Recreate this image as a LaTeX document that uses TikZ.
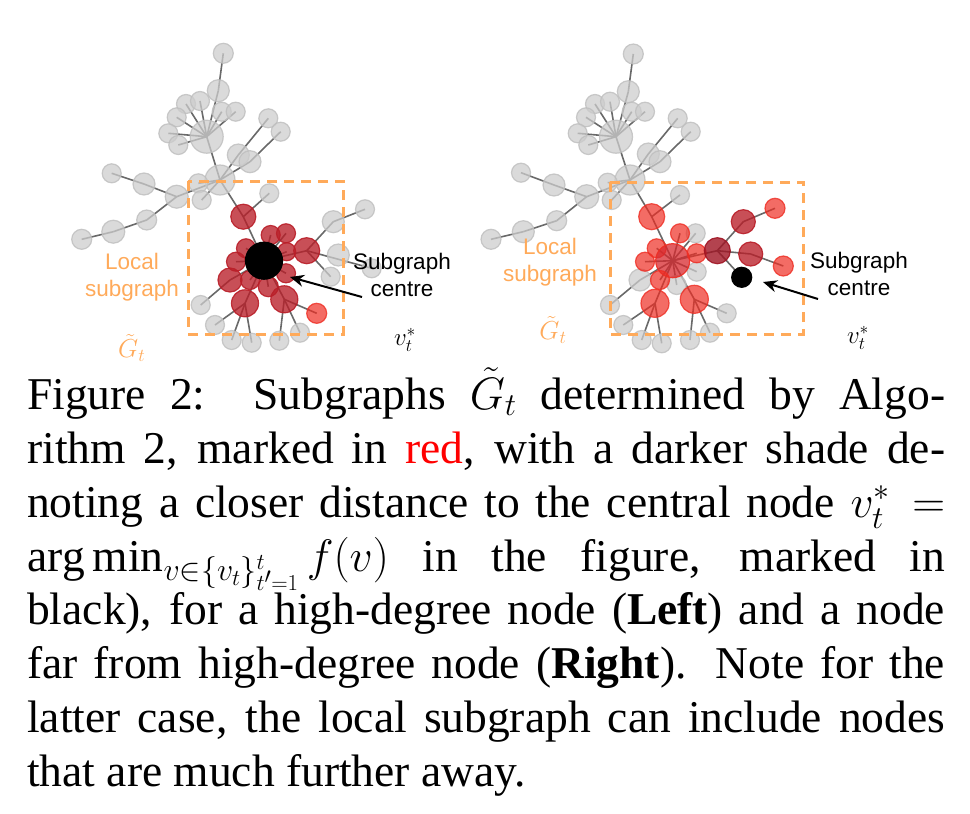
\RequirePackage{fix-cm}
\documentclass[tikz,border=0pt]{standalone}
\usepackage{fontspec}
\setmainfont{Liberation Serif}
\newfontfamily\labfont{Liberation Sans}
\usetikzlibrary{arrows.meta}
\definecolor{lorange}{RGB}{255,170,90}
\definecolor{gfill}{RGB}{205,205,205}
\definecolor{gdraw}{RGB}{190,190,190}
\definecolor{edgec}{RGB}{105,105,105}
\definecolor{dredc}{RGB}{185,30,40}
\definecolor{lredc}{RGB}{238,45,35}
\definecolor{mredc}{RGB}{215,40,45}
\definecolor{ddredc}{RGB}{160,20,35}
\pgfdeclarelayer{edges}
\pgfsetlayers{edges,main}
\begin{document}
\begin{tikzpicture}[x=1pt,y=-1pt,
  nodebase/.style={circle,inner sep=0pt,minimum size=#1,line width=1.2pt},
  gn/.style={nodebase=#1,fill=gfill,draw=gdraw,fill opacity=0.75,draw opacity=0.8},
  gn/.default=19pt,
  dr/.style={nodebase=#1,fill=dredc,draw=dredc,fill opacity=0.78,draw opacity=0.9},
  dr/.default=19pt,
  ddr/.style={nodebase=#1,fill=ddredc,draw=ddredc,fill opacity=0.8,draw opacity=0.9},
  ddr/.default=19pt,
  mr/.style={nodebase=#1,fill=mredc,draw=lredc,fill opacity=0.75,draw opacity=0.9},
  mr/.default=19pt,
  lr/.style={nodebase=#1,fill=lredc,draw=lredc,fill opacity=0.7,draw opacity=0.8},
  lr/.default=19pt,
  bn/.style={nodebase=#1,fill=black,draw=black},
  ed/.style={draw=edgec,line width=1.6pt},
  dbox/.style={draw=lorange,line width=3pt,dash pattern=on 10pt off 7pt},
  arr/.style={-{Stealth[length=14pt,width=12pt]},line width=2pt,draw=black},
  lab/.style={font=\labfont\fontsize{22.5}{26.5}\selectfont,inner sep=0pt,align=center},
  capl/.style={anchor=base west,inner sep=0pt,font=\fontsize{45.5}{54}\selectfont}
]
\useasboundingbox (0,0) rectangle (970,814);

% ---------------- left graph: gray nodes
\node[gn=20pt] (la1) at (223.3,53.3) {};
\node[gn=22pt] (la2) at (218.3,90.7) {};
\node[gn] (la3) at (186,104) {};
\node[gn] (la4) at (200,101) {};
\node[gn] (la5) at (176.7,117.3) {};
\node[gn] (la6) at (221.7,111.7) {};
\node[gn] (la7) at (235.7,111.7) {};
\node[gn=33pt] (la8) at (206.7,136.7) {};
\node[gn] (la9) at (168.3,133.3) {};
\node[gn] (la10) at (178.3,145) {};
\node[gn] (la11) at (268.3,118.3) {};
\node[gn] (la12) at (280.7,131.7) {};
\node[gn=22pt] (la13) at (238.3,155) {};
\node[gn=22pt] (la14) at (250,161.7) {};
\node[gn=30pt] (la15) at (220,180) {};
\node[gn] (la16) at (198.3,183.3) {};
\node[gn] (la17) at (201.7,200) {};
\node[gn] (la18) at (111.7,173.3) {};
\node[gn=22pt] (la19) at (144,184) {};
\node[gn=23pt] (la20) at (176.7,196.7) {};
\node[gn=20pt] (la21) at (146.7,220) {};
\node[gn=23pt] (la22) at (113.3,231.7) {};
\node[gn=20pt] (la23) at (81.7,239.3) {};
\node[gn] (la24) at (269.3,193.3) {};
\node[gn] (la25) at (365,209.3) {};
\node[gn=22pt] (la26) at (333.3,221.7) {};
\node[gn=22pt] (la27) at (338.3,255) {};
\node[gn] (la28) at (371.7,268.3) {};
\node[gn] (la29) at (330.7,276.7) {};
\node[gn] (la30) at (200.7,305) {};
\node[gn] (la31) at (215,325) {};
\node[gn] (la32) at (231.7,340) {};
\node[gn] (la33) at (251.7,342.7) {};
\node[gn] (la34) at (279.3,340.7) {};
\node[gn] (la35) at (300,332.7) {};
% left graph: red nodes
\node[dr=25pt] (lr1) at (243.3,216.7) {};
\node[dr] (lr2) at (270.7,235) {};
\node[dr] (lr3) at (286,233.3) {};
\node[dr=26pt] (lr4) at (306.7,250.7) {};
\node[dr=18pt] (lr5) at (286.7,251.7) {};
\node[dr] (lr6) at (246,248.3) {};
\node[dr] (lr7) at (236,261.7) {};
\node[dr=24pt] (lr8) at (230,280) {};
\node[dr] (lr9) at (250,280) {};
\node[dr=20pt] (lr10) at (268.3,286.7) {};
\node[dr] (lr11) at (286,273.3) {};
\node[dr=27pt] (lr12) at (245,303.3) {};
\node[dr=27pt] (lr13) at (284.3,299.3) {};
\node[lr=20pt] (lr14) at (316.7,313.3) {};
\node[bn=37pt] (lc) at (264,260.7) {};

\begin{pgfonlayer}{edges}
\foreach \a/\b in {la1/la2,la2/la8,la8/la3,la8/la4,la8/la5,la8/la6,la8/la7,la8/la9,la8/la10,
  la8/la15,la15/la13,la13/la11,la15/la14,la14/la12,la15/la16,la15/la17,
  la18/la19,la19/la20,la23/la22,la22/la21,la21/la20,la20/la15,la15/lr1,lr1/la24,lr1/lc,
  lc/lr2,lc/lr3,lc/lr4,lc/lr5,lc/lr6,lc/lr7,lc/lr8,lc/lr9,lc/lr10,lc/lr11,lc/lr12,lc/lr13,
  lr4/la26,la26/la25,lr4/la28,lr4/la29,lr8/la30,lr12/la31,lr12/la32,lr12/la33,
  lr13/la34,lr13/la35,lr13/lr14}
  \draw[ed] (\a.center) -- (\b.center);
\end{pgfonlayer}

\draw[dbox] (188,181) rectangle (343,334);
\node[lab,text=lorange] (lls) at (132,277) {Local\\subgraph};
\node[inner sep=0pt,text=lorange,font=\fontsize{26}{26}\selectfont] (lgt) at (131.7,348) {$\tilde{G}_t$};
\node[inner sep=0pt,font=\fontsize{25}{25}\selectfont] (lvs) at (405,340) {$v_t^*$};
\node[lab] (lsc) at (402,275) {Subgraph\\centre};
\coordinate (las) at (362,297);
\coordinate (lat) at (290,277);
\draw[arr] (las) -- (lat);

% ---------------- right graph: gray nodes
\node[gn=20pt] (ra1) at (633.3,54) {};
\node[gn=22pt] (ra2) at (628.3,91.7) {};
\node[gn] (ra3) at (595,104) {};
\node[gn] (ra4) at (610,101.7) {};
\node[gn] (ra5) at (586,117.3) {};
\node[gn] (ra6) at (631.7,111.7) {};
\node[gn] (ra7) at (645,111.7) {};
\node[gn=33pt] (ra8) at (616,136.7) {};
\node[gn] (ra9) at (577.7,133.3) {};
\node[gn] (ra10) at (588.3,145) {};
\node[gn] (ra11) at (677.7,118.3) {};
\node[gn] (ra12) at (690.7,131.7) {};
\node[gn=22pt] (ra13) at (648.3,154) {};
\node[gn=22pt] (ra14) at (660,161.7) {};
\node[gn=30pt] (ra15) at (630,180) {};
\node[gn] (ra16) at (607.7,182.7) {};
\node[gn] (ra17) at (611.7,200) {};
\node[gn] (ra18) at (521,172.7) {};
\node[gn=22pt] (ra19) at (554,185) {};
\node[gn=24pt] (ra20) at (586.7,196.7) {};
\node[gn=20pt] (ra21) at (556.7,220.7) {};
\node[gn=22pt] (ra22) at (523.3,231.7) {};
\node[gn=20pt] (ra23) at (491,239.3) {};
\node[gn] (ra24) at (680,195) {};
\node[gn] (ra25) at (695.7,233.3) {};
\node[gn=22pt] (ra26) at (640,280) {};
\node[gn] (ra27) at (676.7,285) {};
\node[gn] (ra28) at (696.7,271.7) {};
\node[gn] (ra29) at (610,305) {};
\node[gn] (ra30) at (623.3,325) {};
\node[gn] (ra31) at (641.7,340) {};
\node[gn] (ra32) at (661.7,343.3) {};
\node[gn] (ra33) at (690,340) {};
\node[gn] (ra34) at (710,332.7) {};
\node[gn] (ra35) at (726.7,313.3) {};
% right graph: red nodes
\node[lr=26pt] (rr1) at (651.7,216.7) {};
\node[lr] (rr2) at (680,233.3) {};
\node[lr] (rr3) at (656.7,248.3) {};
\node[lr] (rr4) at (645,261.7) {};
\node[mr=34pt] (rr5) at (672.7,260.7) {};
\node[lr] (rr6) at (696.7,253.3) {};
\node[lr] (rr7) at (660,280) {};
\node[lr=28pt] (rr8) at (655,303.3) {};
\node[lr=28pt] (rr9) at (694.3,299.3) {};
\node[ddr=26pt] (rr10) at (717.3,250.7) {};
\node[dr=24pt] (rr11) at (743.3,221.7) {};
\node[lr=20pt] (rr12) at (775,208.3) {};
\node[dr=24pt] (rr13) at (750.7,254) {};
\node[lr=20pt] (rr14) at (783.3,266) {};
\node[bn=20pt] (rc) at (741.7,277.3) {};

\begin{pgfonlayer}{edges}
\foreach \a/\b in {ra1/ra2,ra2/ra8,ra8/ra3,ra8/ra4,ra8/ra5,ra8/ra6,ra8/ra7,ra8/ra9,ra8/ra10,
  ra8/ra15,ra15/ra13,ra13/ra11,ra15/ra14,ra14/ra12,ra15/ra16,ra15/ra17,
  ra18/ra19,ra19/ra20,ra23/ra22,ra22/ra21,ra21/ra20,ra20/ra15,ra15/rr1,rr1/ra24,rr1/rr5,
  rr5/rr2,rr5/rr3,rr5/rr4,rr5/rr6,rr5/rr7,rr5/rr8,rr5/rr9,rr5/ra25,rr5/ra26,rr5/ra27,rr5/ra28,rr5/rr10,
  ra26/ra29,rr8/ra30,rr8/ra31,rr8/ra32,rr9/ra33,rr9/ra34,rr9/ra35,
  rr10/rr11,rr11/rr12,rr10/rr13,rr13/rr14,rr10/rc}
  \draw[ed] (\a.center) -- (\b.center);
\end{pgfonlayer}

\draw[dbox] (610,182) rectangle (803,334);
\node[lab,text=lorange] (rls) at (550,262) {Local\\subgraph};
\node[inner sep=0pt,text=lorange,font=\fontsize{26}{26}\selectfont] (rgt) at (553,330) {$\tilde{G}_t$};
\node[inner sep=0pt,font=\fontsize{25}{25}\selectfont] (rvs) at (858,338) {$v_t^*$};
\node[lab] (rsc) at (859,274) {Subgraph\\centre};
\coordinate (ras) at (818,299);
\coordinate (rat) at (763,282);
\draw[arr] (ras) -- (rat);

% ---------------- caption
\node[capl] (cap1) at (27,409) {\makebox[918pt][s]{Figure 2:\ \ Subgraphs $\tilde{G}_t$ determined by Algo-}};
\node[capl] (cap2) at (27,463) {\makebox[918pt][s]{rithm 2, marked in \textcolor{red}{red}, with a darker shade de-}};
\node[capl] (cap3) at (27,517) {\makebox[918pt][s]{noting a closer distance to the central node $v_t^* =$}};
\node[capl] (cap4) at (27,571) {\makebox[918pt][s]{$\arg\min_{v\in\{v_t\}_{t'=1}^{t}} f(v)$ in the figure, marked in}};
\node[capl] (cap5) at (27,624) {\makebox[918pt][s]{black), for a high-degree node (\textbf{Left}) and a node}};
\node[capl] (cap6) at (27,678) {\makebox[918pt][s]{far from high-degree node (\textbf{Right}). Note for the}};
\node[capl] (cap7) at (27,732) {\makebox[918pt][s]{latter case, the local subgraph can include nodes}};
\node[capl] (cap8) at (27,786) {that are much further away.};
\end{tikzpicture}
\end{document}
